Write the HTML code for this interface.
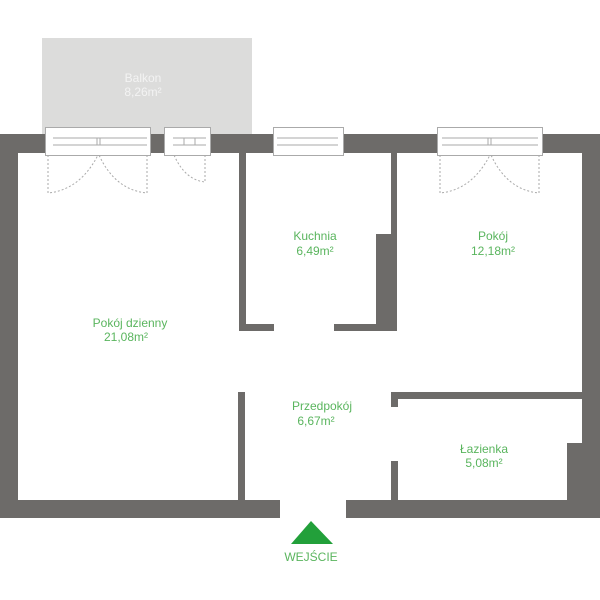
<!DOCTYPE html>
<html><head><style>body{margin:0;background:#fff}svg{display:block}</style></head><body>
<svg width="600" height="600" viewBox="0 0 600 600" xmlns="http://www.w3.org/2000/svg" font-family="Liberation Sans, sans-serif">
<rect x="42" y="38" width="210" height="96" fill="#dcdcdb"/>
<g fill="#6d6b69">
<rect x="0" y="134" width="53" height="19"/>
<rect x="147" y="134" width="26" height="19"/>
<rect x="206" y="134" width="71" height="19"/>
<rect x="338" y="134" width="104" height="19"/>
<rect x="538" y="134" width="62" height="19"/>
<rect x="0" y="134" width="18" height="384"/>
<rect x="582" y="134" width="18" height="384"/>
<rect x="0" y="500" width="280" height="18"/>
<rect x="346" y="500" width="254" height="18"/>
<rect x="239" y="152" width="7" height="179"/>
<rect x="239" y="324" width="35" height="7"/>
<rect x="334" y="324" width="63" height="7"/>
<rect x="391" y="152" width="6" height="179"/>
<rect x="376" y="234" width="21" height="97"/>
<rect x="238" y="392" width="7" height="110"/>
<rect x="391" y="392" width="191" height="7"/>
<rect x="391" y="392" width="7" height="15"/>
<rect x="391" y="461" width="7" height="41"/>
<rect x="567" y="443" width="17" height="59"/>
</g>
<g fill="none" stroke="#aaa" stroke-width="1">
<rect x="45.5" y="127.5" width="105" height="28" fill="#fff"/>
<rect x="164.5" y="127.5" width="46" height="28" fill="#fff"/>
<rect x="273.5" y="127.5" width="70" height="28" fill="#fff"/>
<rect x="437.5" y="127.5" width="105" height="28" fill="#fff"/>
<path d="M53 138H147M53 145H147M97 138V145M100 138V145"/>
<path d="M173 138H206M173 145H206M184 138V145M195 138V145"/>
<path d="M277 138H338M277 145H338"/>
<path d="M442 138H538M442 145H538M488 138V145M491 138V145"/>
</g>
<g fill="none" stroke="#aaa" stroke-dasharray="2,2">
<path d="M48 155V193Q80 190 98 155M147 155V193Q115 190 99 155"/>
<path d="M205 155V182Q185 180 174 155"/>
<path d="M440 155V193Q472 190 490 155M539 155V193Q507 190 491 155"/>
</g>
<g fill="#5ab55e" font-size="12" text-anchor="middle">
<text x="315" y="240">Kuchnia</text><text x="315" y="255">6,49m²</text>
<text x="493" y="240">Pokój</text><text x="493" y="255">12,18m²</text>
<text x="130" y="327">Pokój dzienny</text><text x="126" y="341">21,08m²</text>
<text x="322" y="410">Przedpokój</text><text x="316" y="425">6,67m²</text>
<text x="484" y="453">Łazienka</text><text x="484" y="467">5,08m²</text>
<text x="311" y="561">WEJŚCIE</text>
</g>
<g fill="#f3f3f3" font-size="12" text-anchor="middle">
<text x="143" y="82">Balkon</text><text x="143" y="96">8,26m²</text>
</g>
<polygon points="311,521 291,544 333,544" fill="#22a03a"/>
</svg>
</body></html>
